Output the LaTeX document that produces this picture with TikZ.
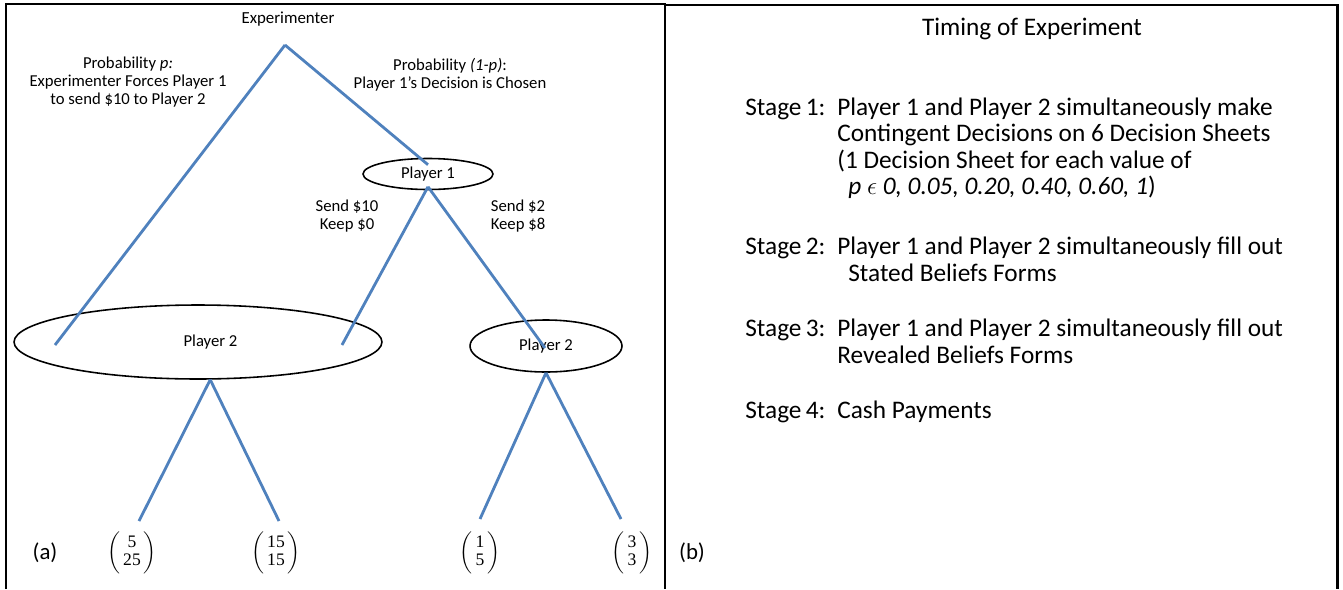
\documentclass[tikz,border=0pt]{standalone}
\usepackage{amsmath}
\usepackage{fontspec}
\setmainfont{Carlito}
\newfontfamily\payfont{Liberation Serif}
\usetikzlibrary{shapes, positioning, calc}
\definecolor{branchblue}{RGB}{79,129,189}
\tikzset{
  player/.style={ellipse, draw, line width=0.9pt, inner sep=0, font=\fontsize{9.5}{11}\selectfont},
  branch/.style={line width=1.6pt, branchblue},
  small/.style={font=\fontsize{9.5}{10.2}\selectfont, align=center, inner sep=0},
  stage/.style={font=\fontsize{14.4}{16}\selectfont, anchor=base west, inner sep=0},
  payoff/.style={font=\fontsize{10}{10.4}\selectfont\payfont},
  panel/.style={line width=1.7pt},
}
\newcommand{\payvec}[2]{$\left(\begin{array}{@{\,}c@{\,}}\mbox{#1}\\\mbox{#2}\end{array}\right)$}

\begin{document}
\begin{tikzpicture}[x=0.02cm, y=-0.02cm]
\useasboundingbox (0,0) rectangle (1343,589);
%frames of the two panels
\draw[panel] (6,589) -- (6,4) -- (665,4) -- (665,589);
\draw[panel] (665,5) -- (1337,5) -- (1337,589);
%game tree nodes
\node[font=\fontsize{9.6}{12}\selectfont] (exp) at (288,19) {Experimenter};
\coordinate (root) at (285,45);
\node[player, minimum width=2.6cm, minimum height=0.62cm] (p1) at (428,174) {Player 1};
\node[player, minimum width=7.36cm, minimum height=1.48cm] (p2a) at (198,342) {\hspace*{0.5cm}Player 2};
\node[player, minimum width=3.04cm, minimum height=1.04cm] (p2b) at (546,346) {Player 2};
\coordinate (p2a_l) at (55,345);
\coordinate (p2a_r) at (342,345);
\coordinate (p2b_in) at (545,348);
%payoffs
\node[payoff] (pay1) at (132,553) {\payvec{5}{25}};
\node[payoff] (pay2) at (276,553) {\payvec{15}{15}};
\node[payoff] (pay3) at (480,553) {\payvec{1}{5}};
\node[payoff] (pay4) at (632,553) {\payvec{3}{3}};
\coordinate (leaf1) at (139,521);
\coordinate (leaf2) at (279,521);
\coordinate (leaf3) at (480,519);
\coordinate (leaf4) at (621,519);
%branches
\draw[branch] (root) -- (p2a_l);
\draw[branch] (root) -- ([yshift=-4pt]p1.north);
\draw[branch] ([yshift=2pt]p1.south) -- (p2a_r);
\draw[branch] ([yshift=2pt]p1.south) -- (p2b_in);
\draw[branch] (p2a.-72) -- (leaf1);
\draw[branch] (p2a.-72) -- (leaf2);
\draw[branch] (p2b.south) -- (leaf3);
\draw[branch] (p2b.south) -- (leaf4);
%branch labels
\node[small] (probl) at (128,82) {Probability \textit{p:}\\Experimenter Forces Player 1\\to send \$10 to Player 2};
\node[small] (probr) at (450,75) {Probability \textit{(1-p)}:\\Player 1’s Decision is Chosen};
\node[small] (sendl) at (347,216) {Send \$10\\Keep \$0};
\node[small] (sendr) at (518,216) {Send \$2\\Keep \$8};
%panel tags
\node[font=\fontsize{13}{15}\selectfont] (taga) at (45,553) {(a)};
\node[font=\fontsize{13}{15}\selectfont] (tagb) at (692,553) {(b)};
%timing of experiment
\node[font=\fontsize{14.4}{16}\selectfont, anchor=base] (title) at (1032,35) {Timing of Experiment};
\node[stage] (s1) at (745,115) {Stage\,1:};
\node[stage] (s1a) at (837,115) {Player 1 and Player 2 simultaneously make};
\node[stage] (s1b) at (837,141) {Contingent Decisions on 6 Decision Sheets};
\node[stage] (s1c) at (837,168) {(1 Decision Sheet for each value of};
\node[stage] (s1d) at (848,194) {\textit{p} $\epsilon$ \textit{0, 0.05, 0.20, 0.40, 0.60, 1})};
\node[stage] (s2) at (745,254) {Stage\,2:};
\node[stage] (s2a) at (837,254) {Player 1 and Player 2 simultaneously fill out};
\node[stage] (s2b) at (848,281) {Stated Beliefs Forms};
\node[stage] (s3) at (745,336) {Stage\,3:};
\node[stage] (s3a) at (837,336) {Player 1 and Player 2 simultaneously fill out};
\node[stage] (s3b) at (837,363) {Revealed Beliefs Forms};
\node[stage] (s4) at (745,418) {Stage\,4:};
\node[stage] (s4a) at (837,418) {Cash Payments};
\end{tikzpicture}
\end{document}
